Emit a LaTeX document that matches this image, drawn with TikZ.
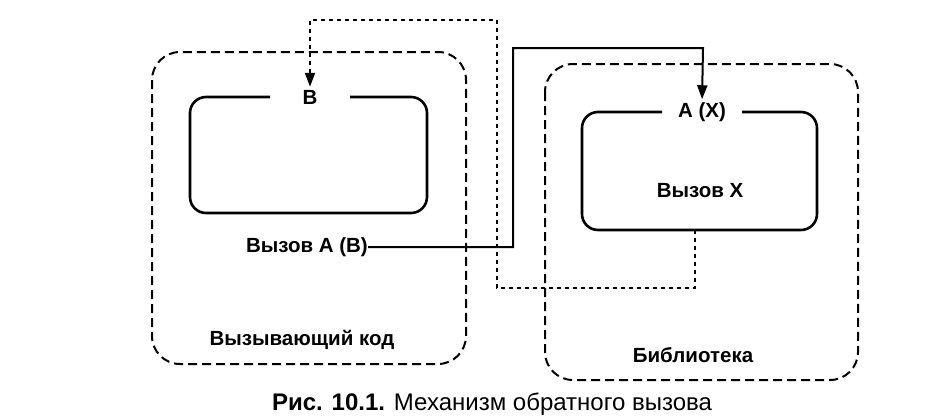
\documentclass[tikz,border=0pt]{standalone}
\usepackage{fontspec}
\setmainfont{Liberation Sans}
\usetikzlibrary{arrows.meta}
\begin{document}
\begin{tikzpicture}[x=1pt,y=-1pt,
  lbl/.style={font=\fontsize{20.5}{24}\selectfont\bfseries, inner sep=0pt},
  outerbox/.style={line width=2pt, dash pattern=on 9pt off 5pt, rounded corners=28pt},
  innerbox/.style={line width=2.6pt, rounded corners=16pt},
  tip/.style={-{Triangle[length=14pt,width=10pt]}},
  solidconn/.style={line width=2pt, tip},
  dotconn/.style={line width=2pt, dash pattern=on 4pt off 4pt, tip}]
\fill[white] (0,0) rectangle (936,418);
\useasboundingbox (0,0) rectangle (936,418);
% outer dashed boxes
\draw[outerbox] (152,52) rectangle (466,364);
\draw[outerbox] (545,64) rectangle (858,380);
% labels
\node[lbl] (B) at (310,97) {В};
\node[lbl] (AX) at (702,112) {А (X)};
\node[lbl] (callX) at (700,191) {Вызов X};
\node[lbl, anchor=east] (callA) at (368,247) {Вызов А (В)};
\node[lbl] (caller) at (302,340) {Вызывающий код};
\node[lbl] (lib) at (693,355) {Библиотека};
\node[inner sep=0pt, font=\fontsize{24}{28}\selectfont] (cap) at (492,404) {\textbf{Рис. 10.1.} Механизм обратного вызова};
% inner solid boxes with gap for the label
\draw[innerbox] (270,97) -- (190,97) -- (190,213) -- (427,213) -- (427,97) -- (350,97);
\draw[innerbox] (662,112) -- (582,112) -- (582,230) -- (817,230) -- (817,112) -- (742,112);
\coordinate (libout) at (695,230);
% connectors
\draw[solidconn, shorten >=3pt] (callA.east) -- ++(145,0) |- (703,48) -- (AX.north);
\draw[dotconn, shorten >=3pt] (libout) -- (695,288) -| (497,20) -| (B.north);
\end{tikzpicture}
\end{document}
